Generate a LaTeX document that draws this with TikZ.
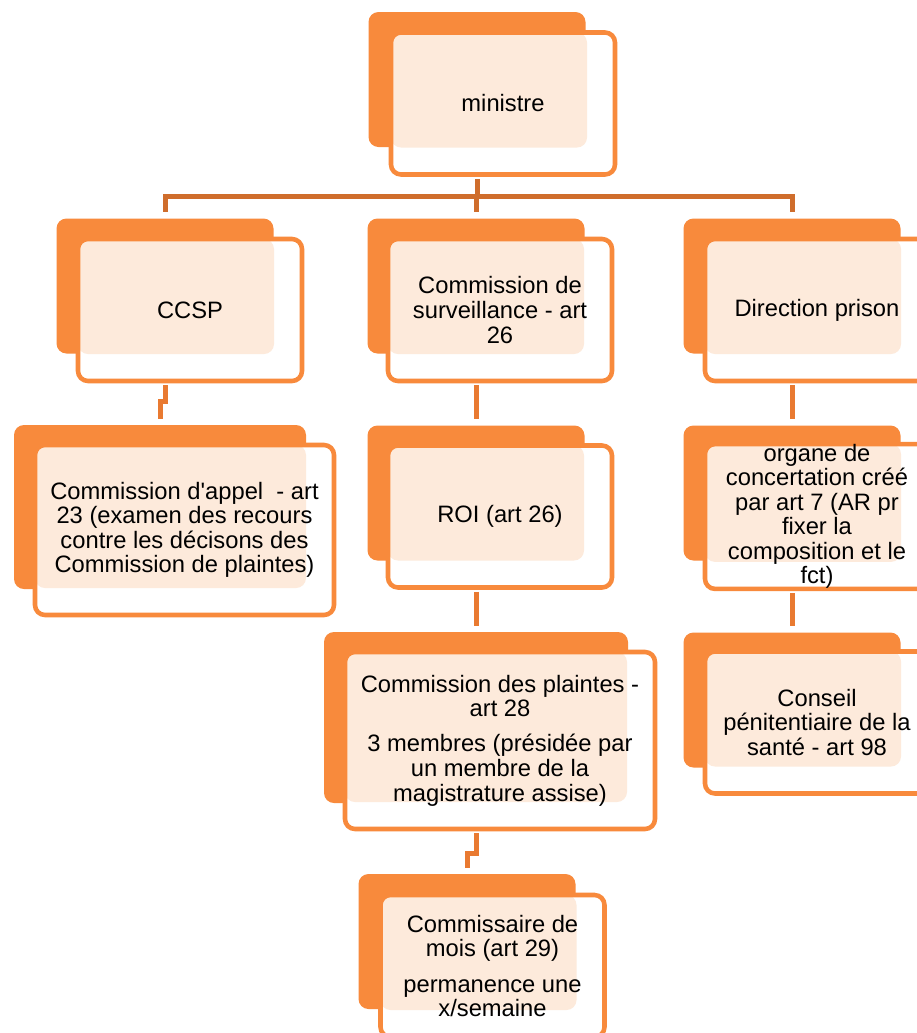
\documentclass[tikz,border=0pt]{standalone}
\usepackage{fontspec}
\setmainfont{Liberation Sans}
\usetikzlibrary{positioning,calc}
\definecolor{borange}{HTML}{F88A3C}
\definecolor{peach}{HTML}{FDEADB}
\definecolor{linkdark}{HTML}{CF6D2C}
\definecolor{linklight}{HTML}{E97A31}
\begin{document}
\begin{tikzpicture}[x=.75pt,y=-.75pt,
  back/.style={fill=borange,rounded corners=7.5pt,minimum width=162.75pt,minimum height=101.25pt,inner sep=0pt},
  front/.style={draw=borange,line width=3.4pt,fill=white,rounded corners=7.5pt,minimum width=168pt,minimum height=106.5pt,inner sep=0pt,align=center,font=\fontsize{17.8pt}{18.4pt}\selectfont,
    path picture={\fill[peach,rounded corners=7.5pt] (path picture bounding box.north west) rectangle ([shift={(-28,-27)}]path picture bounding box.south east);}},
  link/.style={draw=linkdark,line width=3.75pt,shorten <=1.5pt,shorten >=4.5pt},
  sublink/.style={draw=linklight,line width=3.75pt,shorten <=1.5pt,shorten >=4.5pt}]
  \path[use as bounding box,fill=white] (0,0) rectangle (917,1033);

  \node[back] (minb) at (477,79.5) {};
  \node[front] (min) at (503,103.5) {ministre};

  \node[back] (ccspb) at (165,286) {};
  \node[front] (ccsp) at (190,310) {CCSP};
  \node[back] (survb) at (476,286) {};
  \node[front] (surv) at (500,310) {Commission de\\surveillance - art\\26};
  \node[back] (dirb) at (792,286) {};
  \node[front] (dir) at (817,310) {Direction prison};

  \node[back,minimum width=219pt,minimum height=123pt] (appelb) at (160,507) {};
  \node[front,minimum width=224.25pt,minimum height=127.5pt] (appel) at (184.5,530) {Commission d\textquotesingle appel\ \ - art\\23 (examen des recours\\contre les décisons des\\Commission de plaintes)};
  \node[back] (roib) at (476,493) {};
  \node[front] (roi) at (500,516.5) {ROI (art 26)};
  \node[back] (orgb) at (792,493) {};
  \node[front] (org) at (817,516.5) {organe de\\concertation créé\\par art 7 (AR pr\\fixer la\\composition et le\\fct)};

  \node[back,minimum width=228pt,minimum height=128.25pt] (plaintb) at (476,717.5) {};
  \node[front,minimum width=232.5pt,minimum height=132.75pt] (plaint) at (500,740.5) {Commission des plaintes -\\art 28\\[8pt]3 membres (présidée par\\un membre de la\\magistrature assise)};
  \node[back] (consb) at (792,700) {};
  \node[front] (cons) at (817,722.5) {Conseil\\pénitentiaire de la\\santé - art 98};

  \node[back] (commb) at (467,941.5) {};
  \node[front] (comm) at (492.5,966) {Commissaire de\\mois (art 29)\\[8pt]permanence une\\x/semaine};

  \draw[link,shorten >=0pt] (minb |- min.south) -- ++(0,20) coordinate (hub);
  \draw[link,shorten <=0pt] (hub) -| (ccspb.north);
  \draw[link,shorten <=0pt] (hub) -| (survb.north);
  \draw[link,shorten <=0pt] (hub) -| (dirb.north);

  \draw[sublink] (ccspb |- ccsp.south) -- ++(0,18) -| (appelb.north);
  \draw[sublink] (survb |- surv.south) -- (roib.north);
  \draw[sublink] (roib |- roi.south) -- (plaintb.north);
  \draw[sublink] (plaintb |- plaint.south) -- ++(0,22) -| (commb.north);
  \draw[sublink] (dirb |- dir.south) -- (orgb.north);
  \draw[sublink] (orgb |- org.south) -- (consb.north);
\end{tikzpicture}
\end{document}
